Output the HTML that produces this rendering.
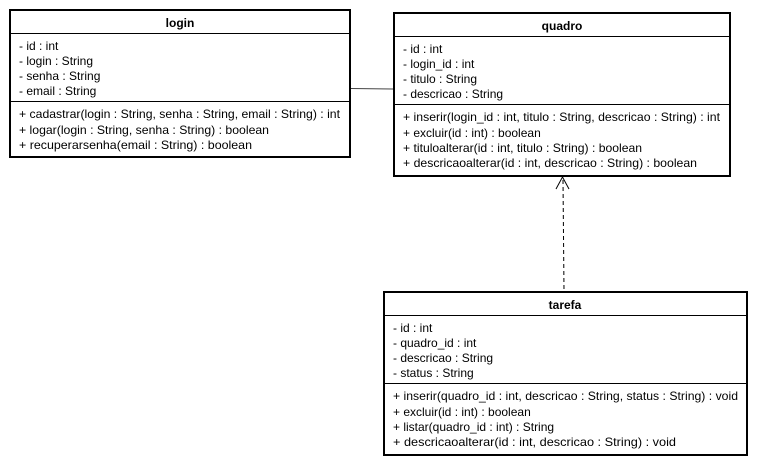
<!DOCTYPE html>
<html><head><meta charset="utf-8"><style>
html,body{margin:0;padding:0;background:#fff;width:758px;height:465px;overflow:hidden}
svg text{font-family:"Liberation Sans",Arial,sans-serif;font-size:12px;fill:#000}
svg .h{font-weight:bold;text-anchor:middle}
</style></head><body>
<svg width="758" height="465" viewBox="0 0 758 465" xmlns="http://www.w3.org/2000/svg">
<g fill="none" stroke="#000">
<rect x="10" y="10" width="340" height="147" stroke-width="2"/>
<line x1="10" y1="33.5" x2="350" y2="33.5"/>
<line x1="10" y1="101.5" x2="350" y2="101.5"/>
<rect x="394" y="13" width="336" height="163" stroke-width="2"/>
<line x1="394" y1="36.5" x2="730" y2="36.5"/>
<line x1="394" y1="104.5" x2="730" y2="104.5"/>
<rect x="384" y="292" width="363" height="163" stroke-width="2"/>
<line x1="384" y1="315.5" x2="747" y2="315.5"/>
<line x1="384" y1="383.5" x2="747" y2="383.5"/>
<line x1="351" y1="88.5" x2="393" y2="89" stroke="#444"/>
<line x1="563" y1="180" x2="564" y2="291" stroke-dasharray="4,3"/>
<polyline points="556,189 562.5,177 569,189"/>
</g>
<text class="h" x="180" y="27">login</text>
<text x="19" y="50">- id : int</text>
<text x="19" y="65">- login : String</text>
<text x="19" y="80">- senha : String</text>
<text x="19" y="95">- email : String</text>
<text x="19" y="118" textLength="321" lengthAdjust="spacingAndGlyphs">+ cadastrar(login : String, senha : String, email : String) : int</text>
<text x="19" y="134" textLength="250" lengthAdjust="spacingAndGlyphs">+ logar(login : String, senha : String) : boolean</text>
<text x="19" y="149" textLength="233" lengthAdjust="spacingAndGlyphs">+ recuperarsenha(email : String) : boolean</text>

<text class="h" x="562" y="30">quadro</text>
<text x="403" y="53">- id : int</text>
<text x="403" y="68">- login_id : int</text>
<text x="403" y="83">- titulo : String</text>
<text x="403" y="98">- descricao : String</text>
<text x="403" y="121" textLength="317" lengthAdjust="spacingAndGlyphs">+ inserir(login_id : int, titulo : String, descricao : String) : int</text>
<text x="403" y="137">+ excluir(id : int) : boolean</text>
<text x="403" y="152" textLength="239" lengthAdjust="spacingAndGlyphs">+ tituloalterar(id : int, titulo : String) : boolean</text>
<text x="403" y="167" textLength="294" lengthAdjust="spacingAndGlyphs">+ descricaoalterar(id : int, descricao : String) : boolean</text>

<text class="h" x="565" y="309">tarefa</text>
<text x="393" y="332">- id : int</text>
<text x="393" y="347">- quadro_id : int</text>
<text x="393" y="362">- descricao : String</text>
<text x="393" y="377">- status : String</text>
<text x="393" y="400" textLength="345" lengthAdjust="spacingAndGlyphs">+ inserir(quadro_id : int, descricao : String, status : String) : void</text>
<text x="393" y="416">+ excluir(id : int) : boolean</text>
<text x="393" y="431">+ listar(quadro_id : int) : String</text>
<text x="393" y="446" textLength="283" lengthAdjust="spacingAndGlyphs">+ descricaoalterar(id : int, descricao : String) : void</text>
</svg>
</body></html>
